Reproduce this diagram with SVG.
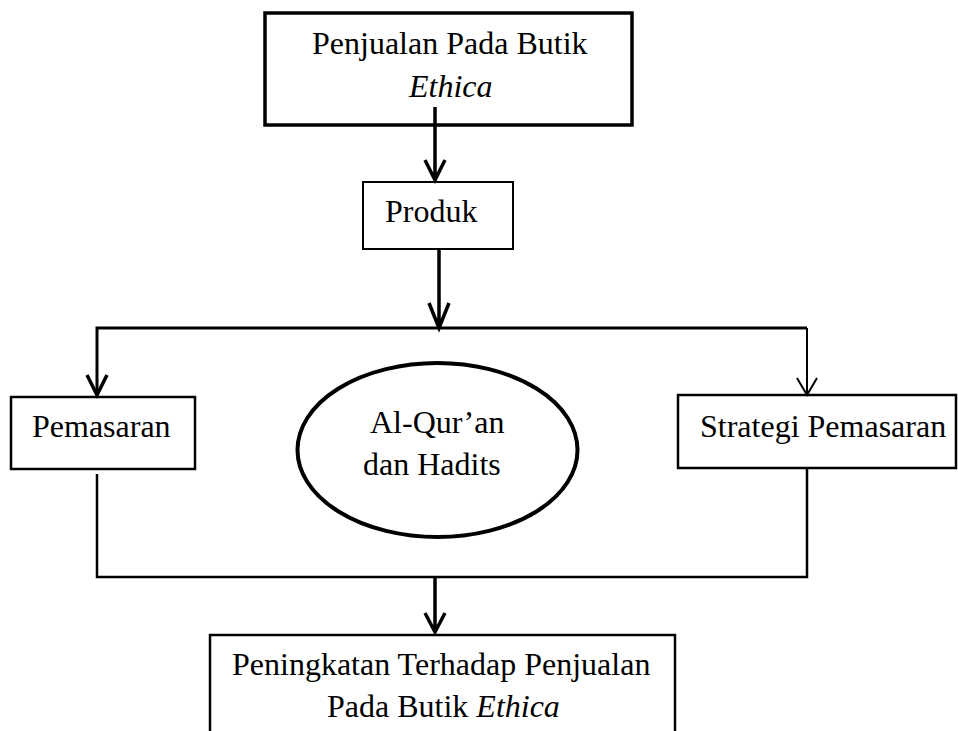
<svg xmlns="http://www.w3.org/2000/svg" width="958" height="731" viewBox="0 0 958 731">
<style>
.box{fill:#fff;stroke:#000;stroke-linejoin:miter}
.t{font-family:"Liberation Serif","Times New Roman",serif;font-size:32px;fill:#000}
.i{font-style:italic}
.ln{fill:none;stroke:#000;stroke-linejoin:miter;stroke-linecap:butt}
</style>
<rect width="958" height="731" fill="#fff"/>
<g id="n-penjualan">
<rect class="box" x="265" y="13" width="367" height="112" stroke-width="3.5"/>
<text class="t" x="312" y="54">Penjualan Pada Butik</text>
<text class="t i" x="409" y="97">Ethica</text>
</g>
<g id="n-produk">
<rect class="box" x="363" y="182" width="150" height="67" stroke-width="2"/>
<text class="t" x="385" y="222">Produk</text>
</g>
<g id="n-pemasaran">
<rect class="box" x="11" y="397" width="184" height="72" stroke-width="2.5"/>
<text class="t" x="32" y="437">Pemasaran</text>
</g>
<g id="n-alquran">
<ellipse class="box" cx="437.5" cy="450" rx="140" ry="87" stroke-width="4"/>
<text class="t" x="370" y="433">Al-Qur’an</text>
<text class="t" x="363" y="475">dan Hadits</text>
</g>
<g id="n-strategi">
<rect class="box" x="678" y="395" width="278" height="73" stroke-width="2.5"/>
<text class="t" x="700" y="437">Strategi Pemasaran</text>
</g>
<g id="n-peningkatan">
<rect class="box" x="210" y="635" width="465" height="110" stroke-width="2.5"/>
<text class="t" x="232" y="675">Peningkatan Terhadap Penjualan</text>
<text class="t" x="327" y="717">Pada Butik <tspan class="i">Ethica</tspan></text>
</g>
<g id="connectors">
<path class="ln" stroke-width="3.5" d="M435 107V179M425 160L435 180L445 160"/>
<path class="ln" stroke-width="3.5" d="M439 250V327M429 303L439 328L449 303"/>
<path class="ln" stroke-width="3" d="M97 395V328H807"/>
<path class="ln" stroke-width="3.5" d="M87 375L97 395L107 375"/>
<path class="ln" stroke-width="2" d="M807 328V394M797 378L807 395L817 378"/>
<path class="ln" stroke-width="2.5" d="M97 474V577H807V468"/>
<path class="ln" stroke-width="3.5" d="M435 577V631M425 613L435 632L445 613"/>
</g>
</svg>
